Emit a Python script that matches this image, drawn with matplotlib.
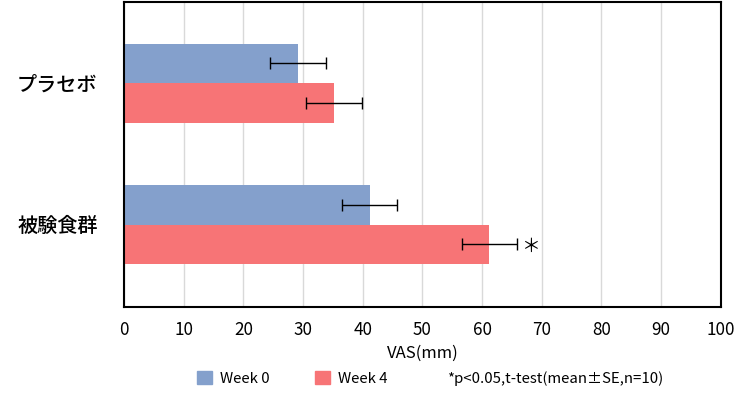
import numpy as np
import matplotlib.pyplot as plt
from matplotlib.patches import Patch

plt.rcParams['font.family'] = ['Noto Sans CJK JP', 'DejaVu Sans']

groups = ['プラセボ', '被験食群']
week0 = [29.1, 41.2]
week4 = [35.2, 61.2]
se0 = [4.7, 4.6]
se4 = [4.75, 4.6]
sig4 = ['', '＊']
xticks = [0, 10, 20, 30, 40, 50, 60, 70, 80, 90, 100]

blue = '#84A0CC'
pink = '#F77476'

fig = plt.figure(figsize=(7.5, 4.01), dpi=100)
ax = fig.add_axes([0.1653, 0.234, 0.7957, 0.762])

y = np.arange(len(groups))
h = 0.28
ax.barh(y - h / 2, week0, height=h, color=blue, zorder=2)
ax.barh(y + h / 2, week4, height=h, color=pink, zorder=2)
ax.errorbar(week0, y - h / 2, xerr=se0, fmt='none', ecolor='black',
            elinewidth=1, capsize=4, capthick=1, zorder=3)
ax.errorbar(week4, y + h / 2, xerr=se4, fmt='none', ecolor='black',
            elinewidth=1, capsize=4, capthick=1, zorder=3)
for yi, v, e, s in zip(y, week4, se4, sig4):
    if s:
        ax.text(v + e + 2.3, yi + h / 2 + 0.015, s, ha='center', va='center',
                fontsize=13.5, color='black')

ax.set_xlim(0, 100)
ax.set_ylim(1.585, -0.578)
ax.set_xticks(xticks)
ax.set_yticks(y)
ax.set_yticklabels(groups, fontsize=14.5, fontweight='medium')
ax.tick_params(axis='y', length=0, pad=19)
ax.tick_params(axis='x', length=0, labelsize=12.3, pad=10)
ax.grid(axis='x', color='#d9d9d9', linewidth=1, zorder=0)
for sp in ax.spines.values():
    sp.set_linewidth(1.5)
    sp.set_color('black')
ax.set_xlabel('VAS(mm)', fontsize=12, labelpad=4)

handles = [Patch(color=blue, label='Week 0'), Patch(color=pink, label='Week 4')]
fig.legend(handles=handles, loc='center left', bbox_to_anchor=(0.245, 0.057),
           ncol=2, frameon=False, fontsize=10.8, handlelength=1.0, handleheight=1.0,
           columnspacing=3.0, handletextpad=0.55)
fig.text(0.596, 0.057, '*p<0.05,t-test(mean±SE,n=10)', fontsize=10.8, va='center')

fig.savefig('out.png', dpi=100)
